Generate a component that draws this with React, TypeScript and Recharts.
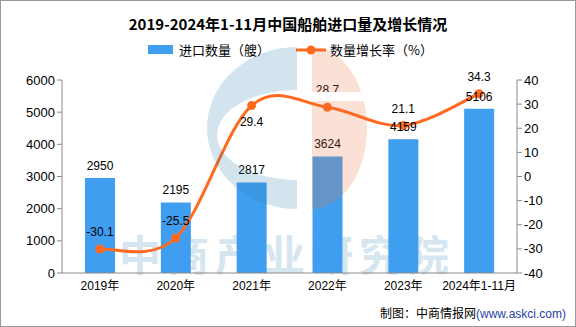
import React from "react";
import {
  ComposedChart, Bar, Line, XAxis, YAxis, LabelList,
} from "recharts";

const years = ["2019年", "2020年", "2021年", "2022年", "2023年", "2024年1-11月"];
const imports = [2950, 2195, 2817, 3624, 4159, 5106];
const growth = [-30.1, -25.5, 29.4, 28.7, 21.1, 34.3];
const leftTicks = [0, 1000, 2000, 3000, 4000, 5000, 6000];
const rightTicks = [-40, -30, -20, -10, 0, 10, 20, 30, 40];
const boundaryTicks = [0, 1, 2, 3, 4, 5, 6];

const data = years.map((year, i) => ({
  year,
  pos: i + 0.5,
  count: imports[i],
  rate: growth[i],
}));

const BLUE = "#409EF0";
const ORANGE = "#FF6A1F";
const AXIS = "#8a8a8a";
const FONT = "'Liberation Sans', 'Noto Sans CJK SC', sans-serif";

// catmull-rom style smoothing, close to the reference spline
const smoothCurve = (context: any) => {
  let pts: number[][] = [];
  return {
    areaStart() {},
    areaEnd() {},
    lineStart() { pts = []; },
    point(x: number, y: number) { pts.push([+x, +y]); },
    lineEnd() {
      if (!pts.length) return;
      context.moveTo(pts[0][0], pts[0][1]);
      const t = 1 / 6;
      for (let i = 0; i < pts.length - 1; i++) {
        const p0 = pts[i - 1] || pts[i];
        const p1 = pts[i];
        const p2 = pts[i + 1];
        const p3 = pts[i + 2] || p2;
        context.bezierCurveTo(
          p1[0] + (p2[0] - p0[0]) * t, p1[1] + (p2[1] - p0[1]) * t,
          p2[0] - (p3[0] - p1[0]) * t, p2[1] - (p3[1] - p1[1]) * t,
          p2[0], p2[1],
        );
      }
    },
  };
};

const RateLabel = (props: any) => {
  const { x, y, value, index } = props;
  const below = index === 2;
  return (
    <text x={x} y={below ? y + 20 : y - 13} textAnchor="middle" fontSize={12} fill="#000" fontFamily={FONT}>
      {value}
    </text>
  );
};

export default function App() {
  return (
    <div style={{ position: "absolute", left: 0, top: 0, width: 576, height: 327, background: "#fff", fontFamily: FONT, overflow: "hidden" }}>
      <div style={{ position: "absolute", left: 0, right: 0, top: 13, textAlign: "center", fontSize: 15, fontWeight: 700, fontFamily: "'Noto Sans CJK SC', sans-serif", color: "#000" }}>
        2019-2024年1-11月中国船舶进口量及增长情况
      </div>

      <div style={{ position: "absolute", left: 119, top: 232, height: 42, lineHeight: "42px", fontSize: 42, fontWeight: 700, letterSpacing: 6, color: "#D6E6F1", fontFamily: "'Noto Sans CJK SC', sans-serif", whiteSpace: "nowrap" }}>
        中商产业研究院
      </div>

      <div style={{ position: "absolute", left: 148, top: 40, display: "flex", alignItems: "center", fontSize: 13, fontFamily: "'Noto Sans CJK SC', sans-serif", color: "#000", whiteSpace: "nowrap" }}>
        <span style={{ display: "inline-block", width: 25, height: 9, background: BLUE, marginRight: 6 }} />
        <span>进口数量（艘）</span>
        <svg width={30} height={12} style={{ marginLeft: 26, marginRight: 4 }}>
          <line x1={0} y1={6} x2={30} y2={6} stroke={ORANGE} strokeWidth={3} />
          <circle cx={15} cy={6} r={4.5} fill={ORANGE} />
        </svg>
        <span>数量增长率（%）</span>
      </div>

      <div style={{ position: "absolute", left: 0, top: 0 }}>
        <ComposedChart width={576} height={327} data={data} margin={{ top: 80, right: 0, bottom: 24, left: 0 }}>
          <XAxis
            xAxisId="edge"
            type="number"
            dataKey="pos"
            domain={[0, 6]}
            ticks={boundaryTicks}
            allowDataOverflow
            axisLine={false}
            tick={false}
            tickLine={{ stroke: AXIS }}
            tickSize={5}
            height={0}
          />
          <XAxis
            dataKey="year"
            height={30}
            tickLine={false}
            axisLine={{ stroke: AXIS }}
            tick={{ fontSize: 12, fill: "#000", fontFamily: FONT }}
            interval={0}
          />
          <YAxis
            yAxisId="left"
            width={62}
            domain={[0, 6000]}
            ticks={leftTicks}
            axisLine={{ stroke: AXIS }}
            tickLine={{ stroke: AXIS }}
            tickSize={5}
            tick={{ fontSize: 13, fill: "#000", fontFamily: FONT }}
          />
          <YAxis
            yAxisId="right"
            orientation="right"
            width={59}
            domain={[-40, 40]}
            ticks={rightTicks}
            axisLine={{ stroke: AXIS }}
            tickLine={{ stroke: AXIS }}
            tickSize={5}
            tick={{ fontSize: 13, fill: "#000", fontFamily: FONT }}
          />
          <Bar yAxisId="left" dataKey="count" fill={BLUE} barSize={30} isAnimationActive={false}>
            <LabelList dataKey="count" position="top" offset={8} fontSize={12} fill="#000" fontFamily={FONT} />
          </Bar>
          <Line
            yAxisId="right"
            dataKey="rate"
            type={smoothCurve as any}
            stroke={ORANGE}
            strokeWidth={3}
            dot={{ r: 4.5, fill: ORANGE, stroke: ORANGE, strokeWidth: 0 }}
            activeDot={false}
            isAnimationActive={false}
          >
            <LabelList dataKey="rate" content={RateLabel} />
          </Line>
        </ComposedChart>
      </div>

      <svg width={576} height={327} style={{ position: "absolute", left: 0, top: 0, pointerEvents: "none" }}>
        <path
          d="M297,47 A90,81 0 0 0 297,209 L297,180 A80,45 0 0 1 297,90 Z"
          fill="#2A7AB0"
          fillOpacity={0.2}
        />
        <path
          d="M312,47 A55,81 0 0 1 312,209 Z"
          fill="#EC6E3B"
          fillOpacity={0.214}
        />
        <rect x={312} y={92} width={60} height={9} fill="#fff" />
      </svg>

      <div style={{ position: "absolute", right: 10, top: 304, fontSize: 12, fontFamily: "'Noto Sans CJK SC', sans-serif", color: "#000", whiteSpace: "nowrap" }}>
        制图：中商情报网<span style={{ color: "#1F3FA0", fontFamily: FONT }}>(www.askci.com)</span>
      </div>

      <div style={{ position: "absolute", left: 0, top: 0, width: 576, height: 327, boxSizing: "border-box", border: "1px solid #999", pointerEvents: "none" }} />
    </div>
  );
}
